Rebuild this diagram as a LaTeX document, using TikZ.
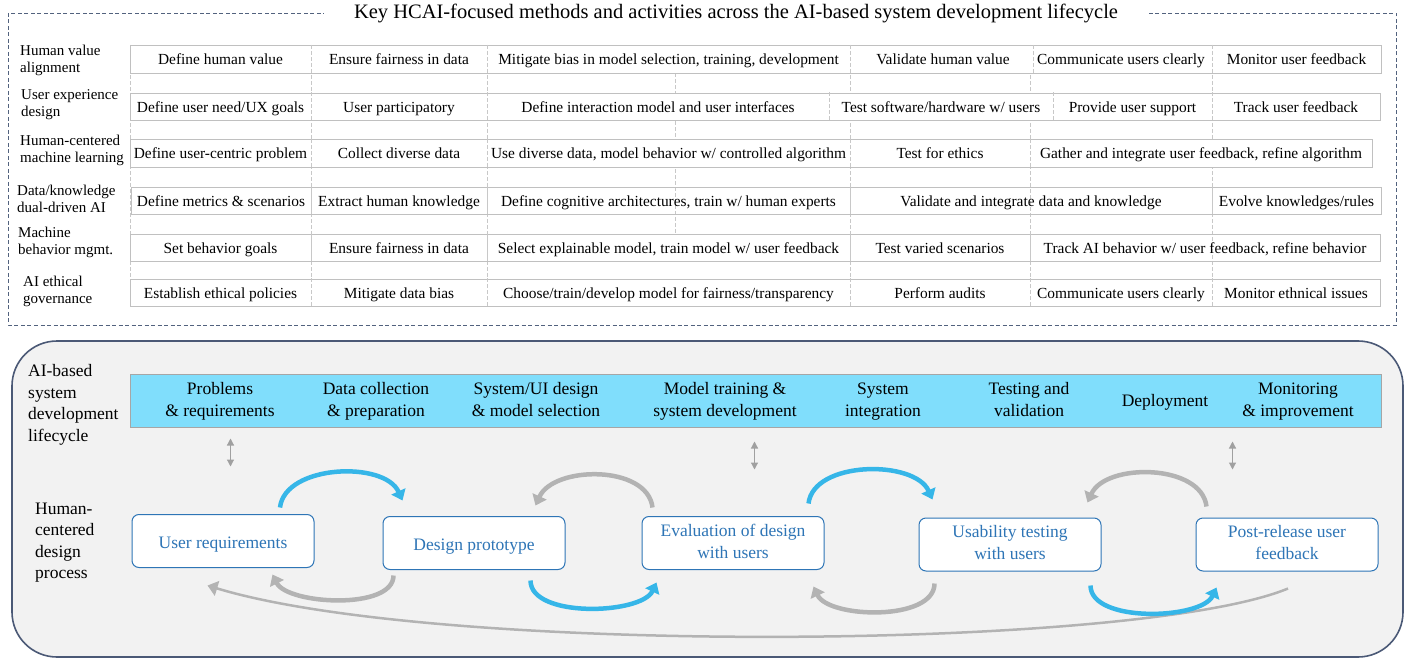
\documentclass[tikz,border=0pt]{standalone}
\usepackage{fontspec}
\setmainfont{Liberation Serif}
\usetikzlibrary{calc,arrows.meta}

\definecolor{framegray}{HTML}{52627E}
\definecolor{cellgray}{HTML}{C0C0C0}
\definecolor{gridgray}{HTML}{C8C8C8}
\definecolor{panelgray}{HTML}{F2F2F2}
\definecolor{panelline}{HTML}{4B5976}
\definecolor{bandblue}{HTML}{80DEFC}
\definecolor{bandline}{HTML}{A6A6A6}
\definecolor{boxblue}{HTML}{2E75B6}
\definecolor{arcblue}{HTML}{36B6E8}
\definecolor{arcgray}{HTML}{B3B3B3}
\definecolor{linkgray}{HTML}{A0A0A0}
\newcommand{\celltop}{\rule{0pt}{14.7pt}}
\newcommand{\cellbot}{\rule[-3.5pt]{0pt}{3.5pt}}
\newcommand{\bigtop}{\rule{0pt}{18.7pt}}
\newcommand{\bigbot}{\rule[-3.9pt]{0pt}{3.9pt}}

\begin{document}
\begin{tikzpicture}[x=1pt,y=-1pt]
       \tikzstyle{frame} = [draw=framegray, line width=0.9pt, dash pattern=on 4pt off 2.5pt];
       \tikzstyle{heading} = [fill=white, inner xsep=30pt, inner ysep=2pt, font=\fontsize{20.5}{24}\selectfont];
       \tikzstyle{rowlabel} = [anchor=west, align=left, inner sep=0pt, font=\fontsize{15}{17}\selectfont, execute at begin node=\strut, execute at end node=\strut];
       \tikzstyle{rowbox} = [draw=cellgray, line width=0.8pt];
       \tikzstyle{cell} = [minimum height=28pt, inner sep=0pt, font=\fontsize{15.4}{18}\selectfont, execute at begin node=\celltop, execute at end node=\cellbot];
       \tikzstyle{colline} = [draw=gridgray, line width=0.7pt, dash pattern=on 4pt off 2pt];
       \tikzstyle{panel} = [draw=panelline, fill=panelgray, line width=1.6pt, rounded corners=45pt];
       \tikzstyle{band} = [draw=bandline, fill=bandblue, line width=1pt, minimum width=1251pt, minimum height=53pt];
       \tikzstyle{stage} = [align=center, inner sep=0pt, font=\fontsize{17.5}{22}\selectfont, execute at begin node=\bigtop, execute at end node=\bigbot];
       \tikzstyle{sidelabel} = [anchor=west, align=left, inner sep=0pt, font=\fontsize{17.5}{21.5}\selectfont, execute at begin node=\strut, execute at end node=\strut];
       \tikzstyle{hcd} = [draw=boxblue, fill=white, text=boxblue, line width=1pt, rounded corners=7pt, minimum width=182pt, minimum height=53pt, align=center, font=\fontsize{17.5}{22}\selectfont, execute at begin node=\bigtop, execute at end node=\bigbot];
       \tikzstyle{link} = [draw=linkgray, line width=1.2pt, {Triangle[length=7pt,width=7pt]}-{Triangle[length=7pt,width=7pt]}];
       \tikzstyle{bluearc} = [draw=arcblue, line width=4.5pt, -{Triangle[length=10pt,width=15pt]}];
       \tikzstyle{grayarc} = [draw=arcgray, line width=4.5pt, -{Triangle[length=10pt,width=15pt]}];
       \useasboundingbox (0,0) rectangle (1405,660);

       % methods and activities
       \draw[frame] (8,13) rectangle (1396,325);
       \node[heading] (heading) at (736,13) {Key HCAI-focused methods and activities across the AI-based system development lifecycle};

       \draw[colline] (130,45) -- (130,306);
       \draw[colline] (311,45) -- (311,306);
       \draw[colline] (487,45) -- (487,306);
       \draw[colline] (675,73) -- (675,234);
       \draw[colline] (850,45) -- (850,306);
       \draw[colline] (1030,45) -- (1030,306);
       \draw[colline] (1212,45) -- (1212,306);

       % human value alignment
       \node[rowlabel] (hvlabel) at (20,61) {Human value\\alignment};
       \draw[rowbox, fill=white] (130,45) rectangle (1381,73);
       \node[cell, minimum width=181pt] (hv1) at (220.5,59) {Define human value};
       \node[cell, minimum width=176pt] (hv2) at (399,59) {Ensure fairness in data};
       \node[cell, minimum width=363pt] (hv3) at (668.5,59) {Mitigate bias in model selection, training, development};
       \node[cell, minimum width=180pt] (hv4) at (943,59) {Validate human value};
       \node[cell, minimum width=182pt] (hv5) at (1121,59) {Communicate users clearly};
       \node[cell, minimum width=169pt] (hv6) at (1296.5,59) {Monitor user feedback};
       \draw[colline] (hv1.north east) -- (hv1.south east);
       \draw[colline] (hv2.north east) -- (hv2.south east);
       \draw[colline] (hv3.north east) -- (hv3.south east);
       \draw[colline] (hv4.north east) -- (hv4.south east);
       \draw[colline] (hv5.north east) -- (hv5.south east);

       % user experience design
       \node[rowlabel] (uxlabel) at (21,106) {User experience\\design};
       \draw[rowbox, fill=white] (130,93) rectangle (1380,120);
       \node[cell, minimum width=181pt] (ux1) at (220.5,106.5) {Define user need/UX goals};
       \node[cell, minimum width=176pt] (ux2) at (399,106.5) {User participatory};
       \node[cell, minimum width=342pt] (ux3) at (658,106.5) {Define interaction model and user interfaces};
       \node[cell, minimum width=224pt] (ux4) at (941,106.5) {Test software/hardware w/ users};
       \node[cell, minimum width=159pt] (ux5) at (1132.5,106.5) {Provide user support};
       \node[cell, minimum width=168pt] (ux6) at (1296,106.5) {Track user feedback};
       \draw[colline] (ux1.north east) -- (ux1.south east);
       \draw[colline] (ux2.north east) -- (ux2.south east);
       \draw[colline] (ux3.north east) -- (ux3.south east);
       \draw[colline] (ux4.north east) -- (ux4.south east);
       \draw[colline] (ux5.north east) -- (ux5.south east);

       % human-centered machine learning
       \node[rowlabel] (hclabel) at (20,151) {Human-centered\\machine learning};
       \draw[rowbox, fill=white] (130,139) rectangle (1372,167);
       \node[cell, minimum width=181pt] (hc1) at (220.5,153) {Define user-centric problem};
       \node[cell, minimum width=176pt] (hc2) at (399,153) {Collect diverse data};
       \node[cell, minimum width=363pt] (hc3) at (668.5,153) {Use diverse data, model behavior w/ controlled algorithm};
       \node[cell, minimum width=180pt] (hc4) at (940,153) {Test for ethics};
       \node[cell, minimum width=342pt] (hc5) at (1201,153) {Gather and integrate user feedback, refine algorithm};
       \draw[colline] (hc1.north east) -- (hc1.south east);
       \draw[colline] (hc2.north east) -- (hc2.south east);
       \draw[colline] (hc3.north east) -- (hc3.south east);
       \draw[colline] (hc4.north east) -- (hc4.south east);

       % data/knowledge dual-driven AI
       \node[rowlabel] (dklabel) at (17,201) {Data/knowledge\\dual-driven AI};
       \draw[rowbox] (131,187) rectangle (1381,214);
       \node[cell, minimum width=180pt] (dk1) at (221,200.5) {Define metrics \& scenarios};
       \node[cell, minimum width=176pt] (dk2) at (399,200.5) {Extract human knowledge};
       \node[cell, minimum width=363pt] (dk3) at (668.5,200.5) {Define cognitive architectures, train w/ human experts};
       \node[cell, minimum width=362pt] (dk4) at (1031,200.5) {Validate and integrate data and knowledge};
       \node[cell, minimum width=169pt] (dk5) at (1296.5,200.5) {Evolve knowledges/rules};
       \draw[colline] (dk1.north east) -- (dk1.south east);
       \draw[colline] (dk2.north east) -- (dk2.south east);
       \draw[colline] (dk3.north east) -- (dk3.south east);
       \draw[colline] (dk4.north east) -- (dk4.south east);

       % machine behavior mgmt.
       \node[rowlabel] (mblabel) at (18,243) {Machine\\behavior mgmt.};
       \draw[rowbox] (130,234) rectangle (1380,261);
       \node[cell, minimum width=181pt] (mb1) at (220.5,247.5) {Set behavior goals};
       \node[cell, minimum width=176pt] (mb2) at (399,247.5) {Ensure fairness in data};
       \node[cell, minimum width=363pt] (mb3) at (668.5,247.5) {Select explainable model, train model w/ user feedback};
       \node[cell, minimum width=180pt] (mb4) at (940,247.5) {Test varied scenarios};
       \node[cell, minimum width=350pt] (mb5) at (1205,247.5) {Track AI behavior w/ user feedback, refine behavior};
       \draw[colline] (mb1.north east) -- (mb1.south east);
       \draw[colline] (mb2.north east) -- (mb2.south east);
       \draw[colline] (mb3.north east) -- (mb3.south east);
       \draw[colline] (mb4.north east) -- (mb4.south east);

       % AI ethical governance
       \node[rowlabel] (eglabel) at (23,292) {AI ethical\\governance};
       \draw[rowbox, fill=white] (130,279) rectangle (1380,306);
       \node[cell, minimum width=181pt] (eg1) at (220.5,292.5) {Establish ethical policies};
       \node[cell, minimum width=176pt] (eg2) at (399,292.5) {Mitigate data bias};
       \node[cell, minimum width=363pt] (eg3) at (668.5,292.5) {Choose/train/develop model for fairness/transparency};
       \node[cell, minimum width=180pt] (eg4) at (940,292.5) {Perform audits};
       \node[cell, minimum width=182pt] (eg5) at (1121,292.5) {Communicate users clearly};
       \node[cell, minimum width=168pt] (eg6) at (1296,292.5) {Monitor ethnical issues};
       \draw[colline] (eg1.north east) -- (eg1.south east);
       \draw[colline] (eg2.north east) -- (eg2.south east);
       \draw[colline] (eg3.north east) -- (eg3.south east);
       \draw[colline] (eg4.north east) -- (eg4.south east);
       \draw[colline] (eg5.north east) -- (eg5.south east);

       % lifecycle and design process
       \draw[panel] (12,341) rectangle (1403,657);
       \node[band] (lifecycle) at (755.5,400.5) {};
       \node[stage] (problems) at (220,401.5) {Problems\\\& requirements};
       \node[stage] (datacoll) at (376,401.5) {Data collection\\\& preparation};
       \node[stage] (uidesign) at (536,401.5) {System/UI design\\\& model selection};
       \node[stage] (training) at (725,401.5) {Model training \&\\system development};
       \node[stage] (integration) at (883,401.5) {System\\integration};
       \node[stage] (testing) at (1029,401.5) {Testing and\\validation};
       \node[stage] (deployment) at (1165,399) {Deployment};
       \node[stage] (monitoring) at (1298,401.5) {Monitoring\\\& improvement};

       \node[sidelabel] (ailabel) at (28,406) {AI-based\\system\\development\\lifecycle};
       \node[sidelabel] (hcdlabel) at (35,544) {Human-\\centered\\design\\process};

       \node[hcd] (userreq) at (223,541) {User requirements};
       \node[hcd] (prototype) at (474,543) {Design prototype};
       \node[hcd] (evaluation) at (733,543) {Evaluation of design\\with users};
       \node[hcd] (usability) at (1010,544.5) {Usability testing\\with users};
       \node[hcd] (postrelease) at (1287,544.5) {Post-release user\\feedback};

       \draw[link] ($(lifecycle.south west)+(101,11)$) -- ($(lifecycle.south west)+(101,39)$);
       \draw[link] ($(lifecycle.south west)+(625,14)$) -- ($(lifecycle.south west)+(625,42)$);
       \draw[link] ($(lifecycle.south west)+(1103,14)$) -- ($(lifecycle.south west)+(1103,42)$);

       \draw[grayarc, line width=2.5pt] ($(postrelease.south)+(1,17)$) .. controls +(-150,62) and +(230,70) .. ($(userreq.south west)+(76,17.5)$);
       \draw[bluearc] ($(userreq.north)+(57,-6.5)$) .. controls +(5,-43) and +(-18,-40) .. ($(prototype.north west)+(20,-15.5)$);
       \draw[grayarc] ($(evaluation.north west)+(11,-8.5)$) .. controls +(-5,-43) and +(18,-40) .. ($(prototype.north east)+(-30,-10.5)$);
       \draw[grayarc] ($(prototype.south west)+(11,5.5)$) .. controls +(0,35) and +(15,30) .. ($(userreq.south east)+(-42,6.5)$);
       \draw[bluearc] ($(prototype.south east)+(-35,10.5)$) .. controls +(0,38) and +(-15,32) .. ($(evaluation.south west)+(15,12.5)$);
       \draw[bluearc] ($(evaluation.north east)+(-16,-12.5)$) .. controls +(5,-43) and +(-18,-40) .. ($(usability.north west)+(14,-18)$);
       \draw[grayarc] ($(usability.south west)+(16,12)$) .. controls +(0,38) and +(15,32) .. ($(evaluation.south east)+(-11,16.5)$);
       \draw[grayarc] ($(postrelease.north west)+(11,-11)$) .. controls +(-5,-43) and +(18,-40) .. ($(usability.north east)+(-14,-15)$);
       \draw[bluearc] ($(usability.south east)+(-11,14)$) .. controls +(0,38) and +(-15,32) .. ($(postrelease.south west)+(21,16)$);
\end{tikzpicture}
\end{document}
